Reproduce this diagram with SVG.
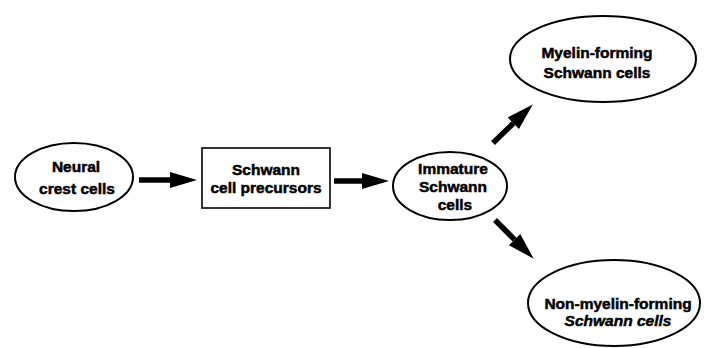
<svg xmlns="http://www.w3.org/2000/svg" width="709" height="348" viewBox="0 0 709 348">
<style>
.node{fill:#fff;stroke:#000;stroke-width:2}
.box{fill:#fff;stroke:#000;stroke-width:1.6}
text{font-family:"Liberation Sans",Arial,sans-serif;font-weight:bold;font-size:15.5px;text-anchor:middle;fill:#000;stroke:#000;stroke-width:0.5}
.it{font-style:italic}
.conn{stroke:#000;stroke-width:5.5;fill:none;marker-end:url(#head)}
</style>
<defs>
<marker id="head" markerUnits="userSpaceOnUse" markerWidth="27" markerHeight="16" refX="0" refY="8" orient="auto" overflow="visible">
<path d="M0,0 L27,8 L0,16 Z" fill="#000"/>
</marker>
</defs>
<rect width="709" height="348" fill="#fff"/>
<g id="connectors">
<line class="conn" x1="139" y1="180" x2="170" y2="180"/>
<line class="conn" x1="334" y1="181" x2="362" y2="181"/>
<line class="conn" x1="493" y1="143" x2="513.4" y2="123.2"/>
<line class="conn" x1="495" y1="220" x2="514.6" y2="239.6"/>
</g>
<g id="neural-crest">
<ellipse class="node" cx="74" cy="177" rx="59" ry="34"/>
<text x="76" y="172">Neural</text>
<text x="77" y="194">crest cells</text>
</g>
<g id="precursors">
<rect class="box" x="202" y="148" width="128" height="60"/>
<text x="266" y="175">Schwann</text>
<text x="266" y="193">cell precursors</text>
</g>
<g id="immature">
<ellipse class="node" cx="450" cy="186" rx="57" ry="34"/>
<text x="453" y="174">Immature</text>
<text x="453" y="192">Schwann</text>
<text x="455" y="210">cells</text>
</g>
<g id="myelin">
<ellipse class="node" cx="603" cy="59" rx="93" ry="43"/>
<text x="597" y="58">Myelin-forming</text>
<text x="597" y="78">Schwann cells</text>
</g>
<g id="nonmyelin">
<ellipse class="node" cx="614" cy="303" rx="86" ry="43"/>
<text x="618" y="309">Non-myelin-forming</text>
<text x="618" y="326" class="it">Schwann cells</text>
</g>
</svg>
